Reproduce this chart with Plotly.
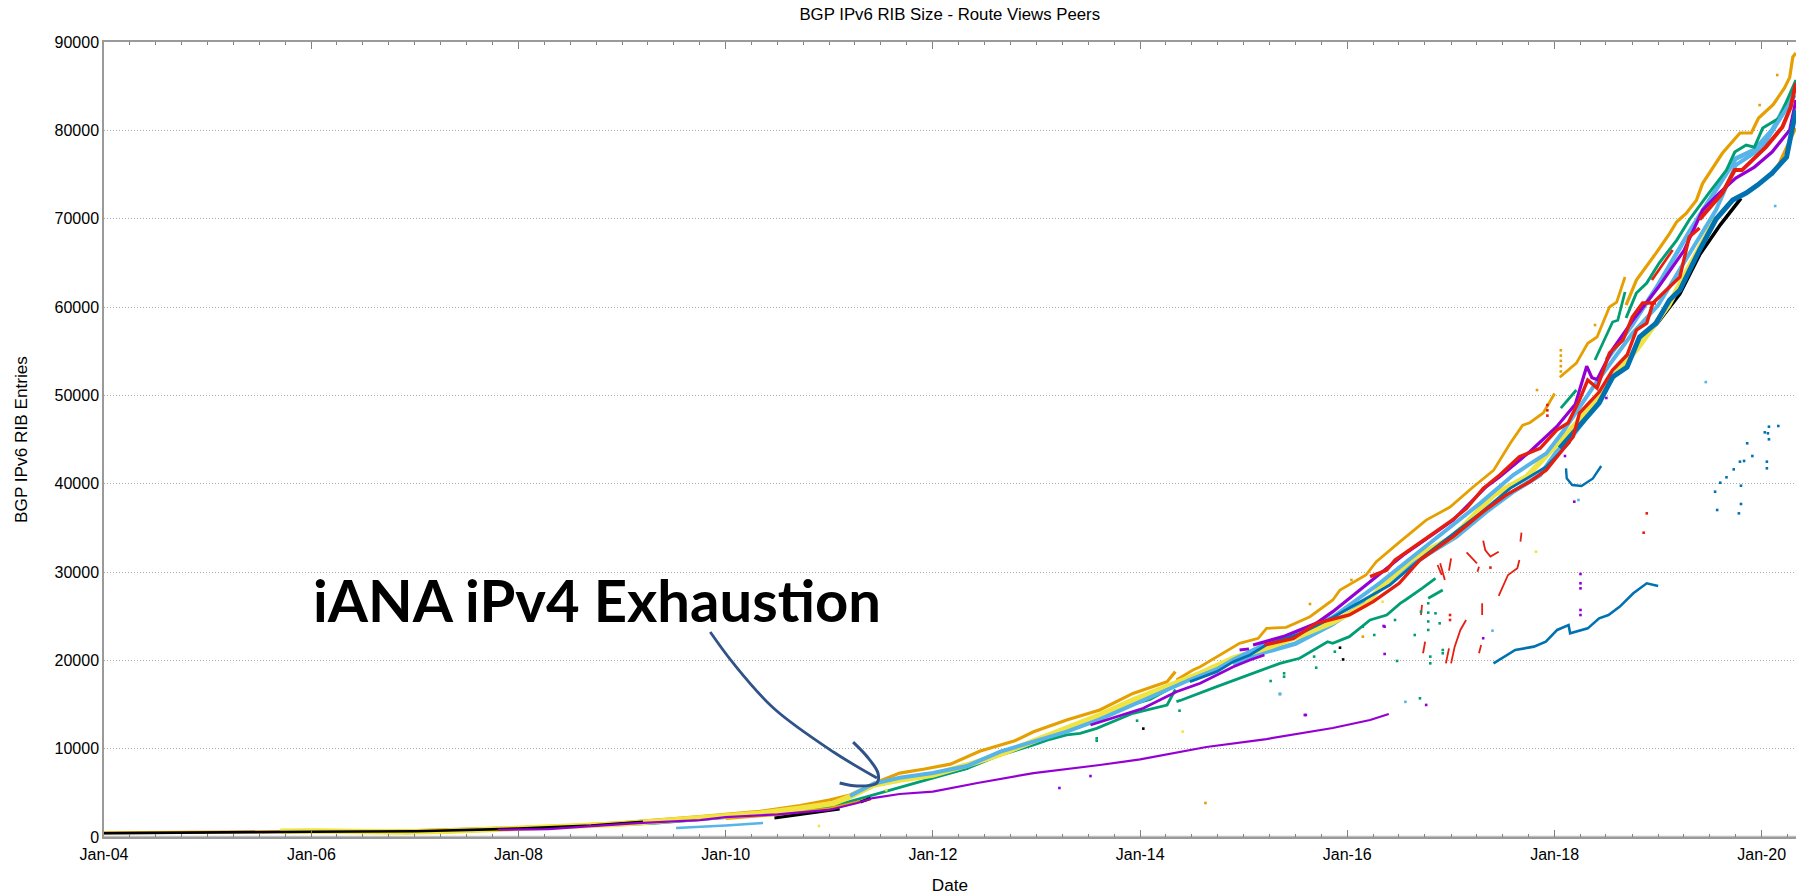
import plotly.graph_objects as go
from datetime import datetime, timedelta

# Colours of the peers
ORANGE = "#e69f00"; GREEN = "#009e73"; SKY = "#56b4e9"; YELLOW = "#f0e442"
BLUE = "#0072b2"; RED = "#e51e10"; PURPLE = "#9400d3"; BLACK = "#000000"

TITLE = "BGP IPv6 RIB Size - Route Views Peers"
Y_TITLE = "BGP IPv6 RIB Entries"
X_TITLE = "Date"
NOTE = "iANA iPv4 Exhaustion"

# Values: years (decimal) and RIB entries
ORANGE_TOP_1_Y = [2004.0,2005.0,2006.0,2007.0,2008.0,2008.5,2009.0,2009.4,2009.75,2010.33,2010.72,2011.0,2011.2,2011.44,2011.68,2011.92,2012.17,2012.45,2012.79,2012.97,2013.29,2013.61,2013.93,2014.26,2014.34]
ORANGE_TOP_1_V = [470,560,650,720,1060,1280,1620,1950,2300,2900,3560,4190,4750,6110,7240,7700,8250,9700,10900,11920,13240,14380,16260,17580,18720]
ORANGE_TOP_2_Y = [2014.35,2014.51,2014.58,2014.87,2014.96,2015.14,2015.22,2015.41,2015.64,2015.86,2015.93,2016.18,2016.28,2016.5,2016.76,2016.99,2017.21,2017.41,2017.57,2017.69,2017.76,2017.89,2018.0]
ORANGE_TOP_2_V = [17770,18900,19280,21240,21920,22490,23620,23730,24940,26830,27960,29660,31170,33350,35880,37350,39600,41500,44550,46600,46900,48000,50200]
ORANGE_TOP_3_Y = [2018.05,2018.21,2018.32,2018.41,2018.53,2018.6,2018.68]
ORANGE_TOP_3_V = [52050,53650,55900,56600,60000,60560,63400]
ORANGE_TOP_4_Y = [2018.69,2018.79,2018.98,2019.11,2019.18,2019.27,2019.37,2019.43,2019.62,2019.79,2019.9,2019.97,2020.11,2020.22,2020.27,2020.3,2020.33]
ORANGE_TOP_4_V = [60200,63050,66100,68300,69650,70600,72100,74000,77400,79700,79700,81400,82900,84800,86000,88300,88750]
ORANGE_LOW_Y = [2020.1,2020.17,2020.24,2020.33]
ORANGE_LOW_V = [74940,76300,78100,80260]

YELLOW_Y = [2005.7,2006.0,2006.9,2007.3,2009.0,2009.7,2010.33,2010.72,2011.04,2011.2,2011.43,2011.68,2012.0,2012.33,2012.65,2012.97,2013.29,2013.61,2013.93,2014.26,2014.58,2014.9,2015.22,2015.54,2015.86,2016.18,2016.31,2016.63,2016.99,2017.1,2017.41,2017.73,2018.05,2018.21,2018.5,2018.8,2019.1,2019.56]
YELLOW_V = [640,690,560,640,1480,2050,2680,3250,3810,4570,5890,6450,7020,8150,9350,10850,12250,13800,15510,17020,18530,20250,21400,22750,24300,26300,28150,31540,33810,34940,38710,40790,44940,46830,51200,55300,60200,70180]

SKY_LOW_Y = [2009.52,2009.75,2010.0,2010.36]
SKY_LOW_V = [1020,1130,1300,1580]
SKY_MID_Y = [2011.2,2011.43,2011.68,2012.0,2012.33,2012.65,2012.97,2013.29,2013.61,2014.48,2014.74,2014.9,2015.22,2015.54,2015.86,2016.31,2016.63,2016.95,2017.28,2017.6,2017.92,2018.08,2018.4,2018.75,2019.0,2019.3,2019.56,2019.75,2020.0,2020.32]
SKY_MID_V = [4650,6050,6700,7250,8040,9660,10790,11920,13320,17800,19000,20100,21900,23150,24900,28720,31730,34750,37770,40980,43430,45880,51400,57000,60200,66000,71000,76070,78000,84000]
SKY_HALO_Y = [2014.9,2015.2,2015.5,2015.86,2016.2,2016.44,2016.76,2017.05,2017.34,2017.6,2017.86,2018.02,2018.18,2018.4,2018.7]
SKY_HALO_V = [19500,20900,21900,24100,26830,29280,31920,34000,36830,39090,40980,43620,45500,49000,54500]
SKY_TOP_Y = [2018.5,2018.75,2019.0,2019.3,2019.56,2019.75,2019.93,2020.1,2020.33]
SKY_TOP_V = [54000,58000,62500,68500,73300,76800,77800,80000,85000]

GREEN_UP_1_Y = [2006.9,2007.4,2009.3,2010.0,2010.5,2011.0,2012.33,2012.65,2012.97,2013.29,2013.61,2013.93,2014.1,2014.3]
GREEN_UP_1_V = [480,620,1550,2150,2650,3350,7770,9280,10980,12250,13700,15000,15600,16900]
GREEN_LOW_1_Y = [2012.04,2012.33,2012.49,2012.65,2012.97,2013.13,2013.29,2013.42,2013.58,2013.93,2014.26,2014.34]
GREEN_LOW_1_V = [6910,7770,8910,9280,10420,11060,11550,11740,12300,14000,14940,16700]
GREEN_LOW_2_Y = [2014.35,2014.4,2014.74,2015.04,2015.1,2015.35,2015.54,2015.81,2015.86,2016.02,2016.22,2016.38,2016.51,2016.56,2016.72,2016.85]
GREEN_LOW_2_V = [15320,15510,17020,18340,18650,19660,20230,22110,21920,22680,24570,25130,26450,26830,28150,29280]
GREEN_LOW_3_Y = [2016.78,2016.92]
GREEN_LOW_3_V = [27020,27960]
GREEN_HIGH_1_Y = [2018.06,2018.21]
GREEN_HIGH_1_V = [48560,50600]
GREEN_HIGH_2_Y = [2018.39,2018.56,2018.61,2018.68]
GREEN_HIGH_2_V = [54000,58300,58500,61700]
GREEN_HIGH_3_Y = [2018.69,2018.79,2018.89,2019.01,2019.18,2019.3,2019.49,2019.66,2019.74,2019.85,2019.93,2020.01,2020.17,2020.28,2020.33]
GREEN_HIGH_3_V = [58750,61580,62700,64980,67580,69850,72900,75500,77540,78340,78100,80260,81400,84220,85700]

PURPLE_EARLY_Y = [2007.8,2008.29,2008.7,2009.15,2009.75,2010.0,2010.5,2011.0,2011.27,2011.42,2011.68,2012.0,2012.43,2012.97,2013.61,2014.0,2014.64,2015.22,2015.86,2016.22,2016.4]
PURPLE_EARLY_V = [820,900,1220,1580,1920,2260,2560,3060,3850,4410,4870,5130,6110,7240,8150,8780,10190,11090,12340,13240,13920]
PURPLE_MIDLOW_1_Y = [2013.52,2013.77,2014.03,2014.35,2014.58,2014.9,2015.06,2015.2]
PURPLE_MIDLOW_1_V = [12680,13620,14570,16450,17400,19280,20040,20600]
PURPLE_UP_1_Y = [2014.96,2015.05]
PURPLE_UP_1_V = [21170,21300]
PURPLE_UP_2_Y = [2015.09,2015.38,2015.7,2015.86,2016.04,2016.22,2016.54,2016.7,2017.02,2017.34,2017.47,2017.76,2018.02,2018.2,2018.31,2018.36,2018.41,2018.56,2018.75,2019.0,2019.25,2019.43,2019.59,2019.75,2019.93,2020.1,2020.27,2020.33]
PURPLE_UP_2_V = [21740,22680,24190,25510,27200,28900,31920,33240,35880,39660,40790,43620,46450,49000,53300,52000,51800,55200,58400,62200,66400,70980,72900,74600,75840,77540,80030,83430]

BLUE_MID_Y = [2014.48,2014.74,2014.9,2015.06,2015.22,2015.54,2015.86,2016.41,2016.73,2017.05,2017.28,2017.57,2017.92,2018.15]
BLUE_MID_V = [17580,18720,19850,20600,21750,23000,24850,28530,31730,34560,36640,39470,41920,44750]
BLUE_LOW_Y = [2018.05,2018.31,2018.43,2018.56,2018.7,2018.82,2018.98,2019.11,2019.21,2019.4,2019.56,2019.72,2019.85,2019.96,2020.1,2020.24,2020.33]
BLUE_LOW_V = [44030,47540,49130,52070,53200,56600,58180,60790,61920,66450,69960,72110,72900,73800,75160,76970,82300]
BLUE_TAIL_Y = [2017.41,2017.51,2017.62,2017.8,2017.915,2018.025,2018.135,2018.15,2018.32,2018.43,2018.52,2018.63,2018.76,2018.89,2019.0]
BLUE_TAIL_V = [19660,20420,21170,21550,22120,23440,24000,23060,23620,24760,25130,26080,27590,28720,28420]
BLUE_HOOK_Y = [2018.11,2018.117,2018.17,2018.26,2018.37,2018.45]
BLUE_HOOK_V = [41740,40600,39850,39730,40600,42000]

BLACK_EARLY_Y = [2004.0,2005.0,2005.5,2006.0,2007.0,2007.5,2008.0,2008.7,2009.2]
BLACK_EARLY_V = [430,510,620,590,650,780,950,1300,1720]
BLACK_MID_Y = [2010.47,2011.1]
BLACK_MID_V = [2150,3170]
BLACK_SPUR_Y = [2011.3,2011.4]
BLACK_SPUR_V = [3950,4410]
BLACK_LOW_Y = [2018.85,2019.0,2019.21,2019.4,2019.6,2019.8]
BLACK_LOW_V = [56300,58300,61500,65900,69300,72300]
ORANGE_MID_Y = [2010.0,2010.5,2011.0,2011.4]
ORANGE_MID_V = [2100,2550,3200,4300]

RED_MID_Y = [2015.2,2015.48,2015.7,2016.02,2016.25,2016.5,2016.7,2017.02,2017.31,2017.53,2017.76,2017.92,2018.18,2018.24,2018.43,2018.56,2018.7,2018.79,2018.89,2018.95,2019.21,2019.3,2019.4]
RED_MID_V = [21740,22490,24190,25130,26640,28720,31360,34000,36830,38710,40220,41540,45310,48000,50370,52860,54560,57390,58180,60450,63400,67920,68940]
RED_TOP_Y = [2016.22,2016.38,2016.46,2016.73,2016.99,2017.15,2017.31,2017.47,2017.66,2017.86,2018.02,2018.13,2018.24,2018.32,2018.41,2018.53,2018.66,2018.75,2018.85,2018.98]
RED_TOP_V = [29470,30220,31360,33620,35690,37200,39470,40980,43050,43990,46070,46860,49470,51730,50830,54790,56260,58860,60450,60450]
RED_SHORT_Y = [2018.94,2019.14]
RED_SHORT_V = [63050,66450]
RED_END_Y = [2019.4,2019.62,2019.74,2019.81,2019.93,2020.04,2020.2,2020.28,2020.33]
RED_END_V = [69900,72900,75500,75500,76860,78100,80370,82640,85350]
RED_BITS_Y = [[2016.87,2016.91],[2016.895,2016.94],[2017.0,2016.98],[2017.15,2017.2,2017.25],[2017.27,2017.255],[2017.31,2017.33,2017.38,2017.46],[2017.68,2017.67],[2017.66,2017.64,2017.55,2017.51,2017.46],[2017.3,2017.3],[2017.145,2017.09,2017.035,2017.0],[2016.98,2016.95],[2016.75,2016.73],[2017.29,2017.27],[2016.72,2016.71]]
RED_BITS_V = [[30790,29660],[30980,29100],[31550,30150],[32230,31550,30980],[30600,30040],[33550,32490,31740,32300],[34450,33430],[31360,30420,29660,28530,27290],[26460,25130],[24570,23440,21550,19660],[21360,19660],[22110,20800],[21740,20800],[26270,25130]]

# Isolated samples
DOTS_BLUE_Y = [2019.55,2019.6,2019.66,2019.73,2019.79,2019.83,2019.86,2019.91,2019.8,2019.8,2019.57,2019.78,2020.05,2020.05,2020.06,2020.07,2020.07,2020.16,2020.03,2015.35]
DOTS_BLUE_V = [39090,40110,40720,41620,42490,42570,44570,43130,39770,37700,37020,36640,42490,41740,45700,46450,45020,46530,45810,16190]
DOTS_GREEN_Y = [2016.78,2016.78,2016.78,2016.78,2016.8,2016.8,2015.39,2015.39,2016.92,2016.92,2016.48,2016.46,2016.26,2016.15,2016.71,2016.85,2016.89,2016.65,2015.88,2015.68,2015.7,2015.26,2016.7,2014.38,2013.97,2013.58,2013.58]
DOTS_GREEN_V = [26460,25400,24400,23440,20420,19660,18530,18150,21170,20800,19930,24570,22870,23810,25510,25320,24190,22870,20980,20420,19170,17660,15700,14300,13170,11170,10900]
DOTS_PURPLE_Y = [2018.25,2018.25,2018.25,2018.25,2018.25,2017.31,2018.19,2018.1,2016.36,2015.6,2016.76,2016.36,2018.5,2013.22,2013.52,2015.59,2016.35]
DOTS_PURPLE_V = [29770,28720,28150,25700,25130,22500,37960,43130,20720,13815,14950,23810,49700,5550,6900,13810,23890]
DOTS_SKY_Y = [2016.56,2018.23,2017.4,2015.35,2020.13,2019.46]
DOTS_SKY_V = [15300,38150,23360,16190,71430,51500]
DOTS_RED_Y = [2018.89,2018.86,2016.99,2016.99,2017.38,2017.93,2017.93,2017.93]
DOTS_RED_V = [36640,34450,25130,24570,30500,48900,48300,47700]
DOTS_ORANGE_Y = [2018.06,2018.06,2018.06,2018.06,2018.06,2017.83,2018.39,2019.98,2020.15,2016.04,2015.64,2014.63,2016.15]
DOTS_ORANGE_V = [55100,54500,53900,53300,52700,50600,57960,82860,86260,29100,26380,3850,22680]
DOTS_YELLOW_Y = [2017.82,2014.41,2016.34,2010.9,2011.55]
DOTS_YELLOW_V = [32300,11930,26640,1250,5300]
DOTS_BLACK_Y = [2015.93,2014.03,2015.96]
DOTS_BLACK_V = [21430,12270,20100]

ARROW_Y = [2009.85,2010.07,2010.46,2011.04,2011.46]
ARROW_V = [23200,19700,14600,9620,6680]
ARROW_HEAD_Y = [2011.23,2011.36,2011.47,2011.46,2011.27,2011.1]
ARROW_HEAD_V = [10750,9170,7240,6110,5770,6110]
NOTE_AT_Y = 2008.76
NOTE_AT_V = 26900


def to_date(y):
    year = int(y)
    start = datetime(year, 1, 1)
    span = (datetime(year + 1, 1, 1) - start).total_seconds()
    return (start + timedelta(seconds=(y - year) * span)).strftime("%Y-%m-%d %H:%M")


fig = go.Figure()


def line(xs, ys, colour, width=2.8, shape="linear"):
    fig.add_trace(go.Scatter(x=[to_date(v) for v in xs], y=ys, mode="lines",
                             line=dict(color=colour, width=width, shape=shape),
                             showlegend=False, hoverinfo="skip"))


def dots(xs, ys, colour, size=2.6):
    fig.add_trace(go.Scatter(x=[to_date(v) for v in xs], y=ys, mode="markers",
                             marker=dict(color=colour, size=size, symbol="square"),
                             showlegend=False, hoverinfo="skip"))


line(BLACK_LOW_Y, BLACK_LOW_V, BLACK, 3.5)
line(SKY_HALO_Y, SKY_HALO_V, SKY, 4.5)
line(SKY_TOP_Y, SKY_TOP_V, SKY, 4.5)
line(GREEN_UP_1_Y, GREEN_UP_1_V, GREEN)
line(GREEN_LOW_1_Y, GREEN_LOW_1_V, GREEN)
line(GREEN_LOW_2_Y, GREEN_LOW_2_V, GREEN)
line(GREEN_LOW_3_Y, GREEN_LOW_3_V, GREEN)
line(GREEN_HIGH_1_Y, GREEN_HIGH_1_V, GREEN)
line(GREEN_HIGH_2_Y, GREEN_HIGH_2_V, GREEN)
line(GREEN_HIGH_3_Y, GREEN_HIGH_3_V, GREEN, 3)
line(ORANGE_TOP_1_Y, ORANGE_TOP_1_V, ORANGE, 3.2)
line(ORANGE_TOP_2_Y, ORANGE_TOP_2_V, ORANGE)
line(ORANGE_TOP_3_Y, ORANGE_TOP_3_V, ORANGE)
line(ORANGE_TOP_4_Y, ORANGE_TOP_4_V, ORANGE, 3.2)
line(ORANGE_LOW_Y, ORANGE_LOW_V, ORANGE, 3)
line(ORANGE_MID_Y, ORANGE_MID_V, ORANGE, 3)
line(YELLOW_Y, YELLOW_V, YELLOW, 5.5)
line(SKY_MID_Y, SKY_MID_V, SKY, 4)
line(SKY_LOW_Y, SKY_LOW_V, SKY, 2.6)
line(BLACK_EARLY_Y, BLACK_EARLY_V, BLACK, 2.6)
line(BLACK_MID_Y, BLACK_MID_V, BLACK, 3)
line(BLACK_SPUR_Y, BLACK_SPUR_V, BLACK, 3)
line(PURPLE_EARLY_Y, PURPLE_EARLY_V, PURPLE, 2.2)
line(PURPLE_MIDLOW_1_Y, PURPLE_MIDLOW_1_V, PURPLE)
line(PURPLE_UP_1_Y, PURPLE_UP_1_V, PURPLE)
line(PURPLE_UP_2_Y, PURPLE_UP_2_V, PURPLE, 3.2)
line(BLUE_MID_Y, BLUE_MID_V, BLUE, 2.8)
line(BLUE_LOW_Y, BLUE_LOW_V, BLUE, 5)
line(BLUE_TAIL_Y, BLUE_TAIL_V, BLUE, 2.6)
line(BLUE_HOOK_Y, BLUE_HOOK_V, BLUE, 2.4)
line(RED_MID_Y, RED_MID_V, RED, 3.4)
line(RED_TOP_Y, RED_TOP_V, RED, 3.4)
line(RED_SHORT_Y, RED_SHORT_V, RED, 2.6)
line(RED_END_Y, RED_END_V, RED, 4)
for bit_y, bit_v in zip(RED_BITS_Y, RED_BITS_V):
    line(bit_y, bit_v, RED, 1.8)

dots(DOTS_BLUE_Y, DOTS_BLUE_V, BLUE)
dots(DOTS_GREEN_Y, DOTS_GREEN_V, GREEN)
dots(DOTS_PURPLE_Y, DOTS_PURPLE_V, PURPLE)
dots(DOTS_SKY_Y, DOTS_SKY_V, SKY)
dots(DOTS_RED_Y, DOTS_RED_V, RED)
dots(DOTS_ORANGE_Y, DOTS_ORANGE_V, ORANGE)
dots(DOTS_YELLOW_Y, DOTS_YELLOW_V, YELLOW)
dots(DOTS_BLACK_Y, DOTS_BLACK_V, BLACK)

line(ARROW_Y, ARROW_V, "#2f5289", 2.8, "spline")
line(ARROW_HEAD_Y, ARROW_HEAD_V, "#2f5289", 3, "spline")

fig.add_annotation(x=to_date(NOTE_AT_Y), y=NOTE_AT_V, text=NOTE, showarrow=False,
                   font=dict(family="Lato", size=58, color="#000000", weight="bold"))

FONT = "Liberation Sans"
fig.update_layout(
    width=1796, height=895, paper_bgcolor="white", plot_bgcolor="white",
    margin=dict(l=103.5, r=0, t=42, b=58), showlegend=False,
    font=dict(family=FONT, size=16, color="#000000"),
    title=dict(text=TITLE, x=(103.5 + 1796) / 2 / 1796, xanchor="center", y=0.991, yanchor="top",
               font=dict(family=FONT, size=16.8)),
    xaxis=dict(type="date", range=["2004-01-01", "2020-05-01"], dtick="M24", tick0="2004-01-01",
               tickformat="%b-%y", ticks="inside", ticklen=7, tickcolor="#808080", tickwidth=1,
               showline=True, linecolor="#9a9a9a", linewidth=1.5, mirror="ticks", showgrid=False,
               zeroline=False, ticklabelstandoff=2,
               title=dict(text=X_TITLE, standoff=17, font=dict(size=17.2)),
               minor=dict(dtick="M3", tick0="2004-01-01", ticks="inside", ticklen=3.5,
                          tickcolor="#808080", tickwidth=1, showgrid=False)),
    yaxis=dict(range=[0, 90000], dtick=10000, ticks="", showline=True, linecolor="#9a9a9a",
               linewidth=1.5, showgrid=True, gridcolor="#ababab", griddash="1px,2px", gridwidth=1,
               zeroline=False, tickformat="d",
               title=dict(text=Y_TITLE, standoff=23, font=dict(size=17.2))),
    shapes=[dict(type="line", xref="paper", yref="paper", x0=0, x1=1, y0=0, y1=0,
                 line=dict(color="#c0c0c0", width=2.5), layer="below")],
)

fig.write_html("out.html", config={"displayModeBar": False},
               post_script="document.body.style.margin='0';document.body.style.overflow='hidden';")
